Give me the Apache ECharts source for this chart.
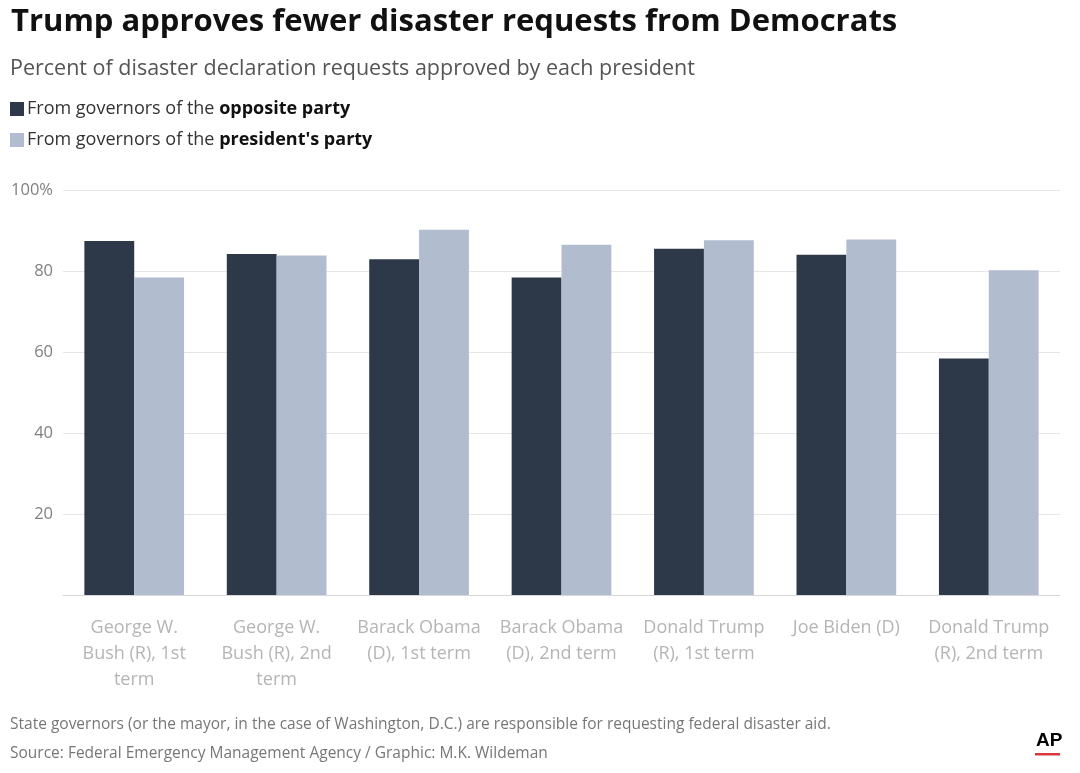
<!DOCTYPE html>
<html>
<head>
<meta charset="utf-8">
<script src="https://cdn.jsdelivr.net/npm/echarts@6/dist/echarts.min.js"></script>
<style>
  html, body { margin: 0; padding: 0; background: #fff; }
  #chart { width: 1080px; height: 773px; }
</style>
</head>
<body>
<div id="chart"></div>
<script>
// data
const categories = [
    'George W.\nBush (R), 1st\nterm',
    'George W.\nBush (R), 2nd\nterm',
    'Barack Obama\n(D), 1st term',
    'Barack Obama\n(D), 2nd term',
    'Donald Trump\n(R), 1st term',
    'Joe Biden (D)',
    'Donald Trump\n(R), 2nd term'
];
const oppositeParty = [87.4, 84.2, 82.9, 78.4, 85.5, 84.0, 58.4];
const presidentsParty = [78.4, 83.8, 90.2, 86.5, 87.6, 87.8, 80.2];
const yTicks = [0, 20, 40, 60, 80, 100];

const FONT = '"Open Sans", "Liberation Sans", sans-serif';

(function () {
    let myChart = echarts.init(document.getElementById('chart'));

    let option = {
        backgroundColor: '#fff',
        textStyle: { fontFamily: FONT },
        title: [
            {
                text: 'Trump approves fewer disaster requests from Democrats',
                left: 6, top: 2,
                textStyle: { fontFamily: FONT, fontWeight: 'bold', fontSize: 31, color: '#111' }
            },
            {
                text: 'Percent of disaster declaration requests approved by each president',
                left: 5, top: 53,
                textStyle: { fontFamily: FONT, fontWeight: 'normal', fontSize: 21.5, color: '#555' }
            }
        ],
        legend: {
            orient: 'vertical',
            left: 10, top: 100,
            padding: 0,
            itemWidth: 14, itemHeight: 14, itemGap: 13,
            icon: 'rect',
            selectedMode: false,
            data: ['opposite', 'president'],
            formatter: function (name) {
                return name === 'opposite'
                    ? '{n|From governors of the }{b|opposite party}'
                    : '{n|From governors of the }{b|president\'s party}';
            },
            textStyle: {
                padding: [0, 0, 0, -2],
                rich: {
                    n: { fontFamily: FONT, fontSize: 18, color: '#333' },
                    b: { fontFamily: FONT, fontSize: 18, color: '#111', fontWeight: 'bold' }
                }
            }
        },
        grid: { left: 63, right: 20, top: 190, bottom: 178, containLabel: false },
        xAxis: {
            type: 'category',
            data: categories,
            axisLine: { lineStyle: { color: '#d8d8d8' } },
            axisTick: { alignWithLabel: true, length: 10, lineStyle: { color: '#999' } },
            axisLabel: {
                interval: 0, margin: 20,
                color: '#b5b5b5', fontSize: 18, lineHeight: 26, fontFamily: FONT
            }
        },
        yAxis: {
            type: 'value',
            min: yTicks[0], max: yTicks[yTicks.length - 1], interval: 20,
            axisLine: { show: false },
            axisTick: { show: false },
            splitLine: { lineStyle: { color: '#e6e6e6' } },
            axisLabel: {
                margin: 10,
                color: '#808080', fontSize: 16.5, fontFamily: FONT,
                formatter: function (v) {
                    if (v === 0) return '';
                    return v === 100 ? v + '%' : String(v);
                }
            }
        },
        series: [
            {
                name: 'opposite',
                type: 'bar',
                data: oppositeParty,
                barGap: '0%',
                barCategoryGap: '30%',
                itemStyle: { color: '#2d3949' }
            },
            {
                name: 'president',
                type: 'bar',
                data: presidentsParty,
                itemStyle: { color: '#b1bccf' }
            }
        ],
        graphic: [
            {
                type: 'text', left: 10, top: 717,
                style: {
                    text: 'State governors (or the mayor, in the case of Washington, D.C.) are responsible for requesting federal disaster aid.',
                    font: '15.5px ' + FONT, fill: '#777'
                }
            },
            {
                type: 'text', left: 10, top: 746,
                style: {
                    text: 'Source: Federal Emergency Management Agency / Graphic: M.K. Wildeman',
                    font: '15.5px ' + FONT, fill: '#777'
                }
            },
            {
                type: 'text', left: 1036, top: 731,
                style: { text: 'AP', font: 'bold 19px "Liberation Sans", sans-serif', fill: '#000' }
            },
            {
                type: 'rect', left: 1035, top: 753,
                shape: { width: 25, height: 2.5 },
                style: { fill: '#d9363e' }
            }
        ]
    };

    myChart.setOption(option);
    window.addEventListener('resize', function () {
        myChart.resize();
    });
})();
</script>
</body>
</html>
